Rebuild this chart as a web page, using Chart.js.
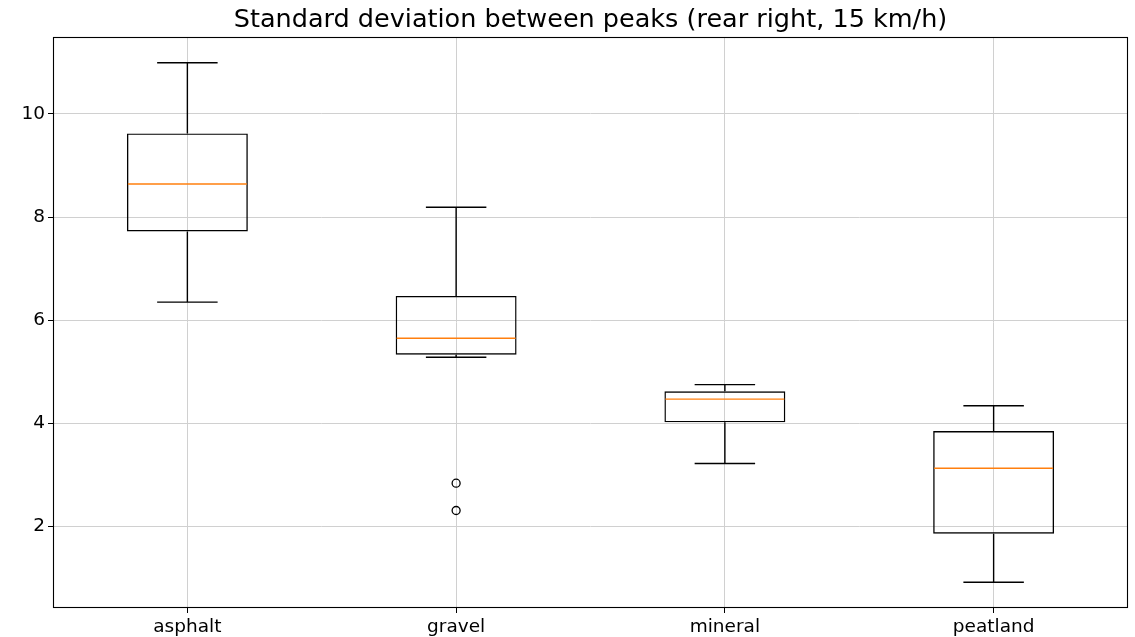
<!DOCTYPE html>
<html>
<head>
<meta charset="utf-8">
<script src="https://cdn.jsdelivr.net/npm/chart.js@4/dist/chart.umd.min.js"></script>
<style>
html,body{margin:0;padding:0;background:#fff;}
#wrap{width:1135px;height:637px;}
</style>
</head>
<body>
<div id="wrap"><canvas id="c" width="1135" height="637"></canvas></div>
<script>
const categories = ['asphalt', 'gravel', 'mineral', 'peatland'];
const whiskerLow  = [6.35, 5.28, 3.22, 0.92];
const q1          = [7.72, 5.33, 4.02, 1.86];
const median      = [8.64, 5.65, 4.47, 3.13];
const q3          = [9.62, 6.47, 4.62, 3.85];
const whiskerHigh = [10.99, 8.19, 4.75, 4.34];
const outlierCats = ['gravel', 'gravel'];
const outlierVals = [2.84, 2.31];
const yTicks = [2, 4, 6, 8, 10];

const FONT = 'DejaVu Sans';

const boxPlugin = {
  id: 'boxExtras',
  afterDatasetsDraw(chart) {
    const ctx = chart.ctx;
    const xs = chart.scales.x, ys = chart.scales.y;
    const step = xs.getPixelForValue(1) - xs.getPixelForValue(0);
    const boxW = step * 0.45;
    const capW = boxW / 2;
    ctx.save();
    categories.forEach((c, i) => {
      const x = xs.getPixelForValue(i);
      ctx.strokeStyle = '#000';
      ctx.lineWidth = 1.4;
      ctx.beginPath();
      ctx.moveTo(x, ys.getPixelForValue(q3[i]));
      ctx.lineTo(x, ys.getPixelForValue(whiskerHigh[i]));
      ctx.moveTo(x, ys.getPixelForValue(q1[i]));
      ctx.lineTo(x, ys.getPixelForValue(whiskerLow[i]));
      const yh = ys.getPixelForValue(whiskerHigh[i]);
      const yl = ys.getPixelForValue(whiskerLow[i]);
      ctx.moveTo(x - capW / 2, yh); ctx.lineTo(x + capW / 2, yh);
      ctx.moveTo(x - capW / 2, yl); ctx.lineTo(x + capW / 2, yl);
      ctx.stroke();
      ctx.strokeStyle = '#ff7f0e';
      ctx.beginPath();
      const ym = ys.getPixelForValue(median[i]);
      ctx.moveTo(x - boxW / 2 + 1, ym); ctx.lineTo(x + boxW / 2 - 1, ym);
      ctx.stroke();
    });
    ctx.restore();
  },
  afterDraw(chart) {
    const a = chart.chartArea, ctx = chart.ctx;
    ctx.save();
    ctx.strokeStyle = '#000';
    ctx.lineWidth = 1.1;
    ctx.strokeRect(Math.round(a.left) + 0.5, Math.round(a.top) + 0.5, Math.round(a.right - a.left) - 1, Math.round(a.bottom - a.top) - 1);
    ctx.restore();
  }
};

new Chart(document.getElementById('c'), {
  type: 'bar',
  data: {
    labels: categories,
    datasets: [
      {
        type: 'bar',
        data: categories.map((c, i) => [q1[i], q3[i]]),
        backgroundColor: 'rgba(0,0,0,0)',
        borderColor: '#000',
        borderWidth: 1.4,
        borderSkipped: false,
        barPercentage: 0.45,
        categoryPercentage: 1.0
      },
      {
        type: 'line',
        data: outlierCats.map((c, i) => ({x: c, y: outlierVals[i]})),
        showLine: false,
        pointStyle: 'circle',
        pointRadius: 4,
        pointBorderWidth: 1.3,
        pointBorderColor: '#000',
        pointBackgroundColor: 'rgba(0,0,0,0)'
      }
    ]
  },
  options: {
    responsive: false,
    animation: false,
    devicePixelRatio: 1,
    layout: {padding: {left: 0, right: 7, top: 0, bottom: 0}},
    plugins: {
      legend: {display: false},
      tooltip: {enabled: false},
      title: {
        display: true,
        fullSize: false,
        text: 'Standard deviation between peaks (rear right, 15 km/h)',
        color: '#000',
        font: {family: FONT, size: 25.5, weight: 'normal', lineHeight: 1.2},
        padding: {top: 5.5, bottom: 0.9}
      }
    },
    scales: {
      x: {
        type: 'category',
        offset: true,
        grid: {display: true, offset: false, color: '#d0d0d0', lineWidth: 1, tickLength: 5, tickColor: '#000', drawOnChartArea: true},
        border: {display: false},
        ticks: {color: '#000', font: {family: FONT, size: 18.5}, padding: 3, maxRotation: 0},
        afterFit(s) { s.height = 29; }
      },
      y: {
        min: 0.42,
        max: 11.49,
        grid: {color: '#d0d0d0', lineWidth: 1, tickLength: 5, tickColor: '#000'},
        border: {display: false},
        afterBuildTicks(s) { s.ticks = yTicks.map(v => ({value: v})); },
        ticks: {color: '#000', font: {family: FONT, size: 18.5}, padding: 3},
        afterFit(s) { s.width = 53; }
      }
    }
  },
  plugins: [boxPlugin]
});
</script>
</body>
</html>
